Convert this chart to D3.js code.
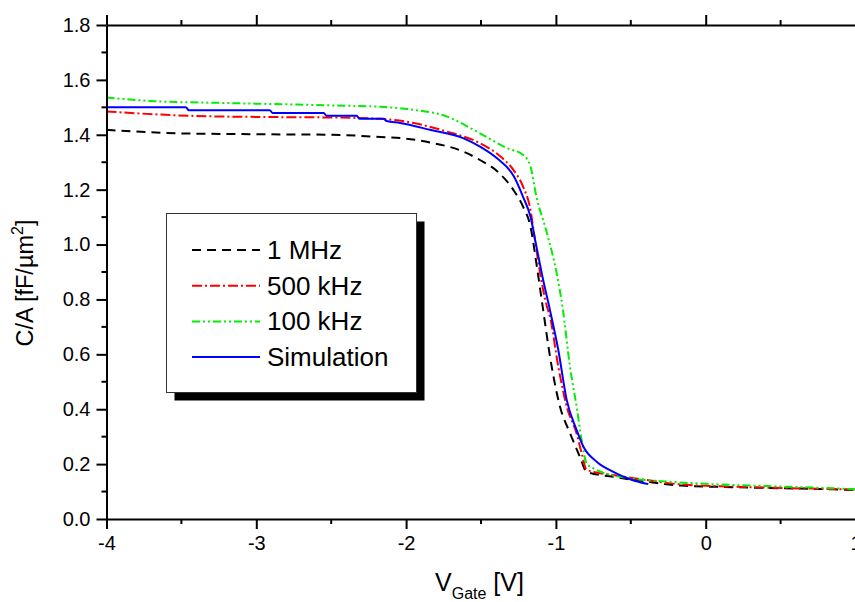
<!DOCTYPE html>
<html>
<head>
<meta charset="utf-8">
<script src="https://cdn.jsdelivr.net/npm/d3@7"></script>
<style>
  html, body { margin: 0; padding: 0; background: #fff; }
  svg { display: block; font-family: Arial, "Liberation Sans", sans-serif; }
</style>
</head>
<body>
<svg id="chart" width="855" height="602"></svg>
<script>
// ---- data ----
const seriesNames = ["1 MHz", "500 kHz", "100 kHz", "Simulation"];

const mhz1X = [-4, -3.5, -3, -2.5, -2.17, -2.0, -1.84, -1.62, -1.51, -1.39, -1.285, -1.22, -1.17, -1.127, -1.09, -1.028, -0.973, -0.906, -0.84, -0.795, -0.62, -0.394, -0.17, 0.18, 0.5, 0.85, 1.0];
const mhz1Y = [1.418, 1.405, 1.402, 1.400, 1.392, 1.386, 1.372, 1.339, 1.309, 1.266, 1.200, 1.139, 1.066, 0.920, 0.780, 0.555, 0.410, 0.313, 0.227, 0.172, 0.154, 0.136, 0.122, 0.116, 0.112, 0.108, 0.105];

const khz500X = [-4, -3.44, -3, -2.5, -2.17, -1.95, -1.73, -1.51, -1.37, -1.285, -1.22, -1.17, -1.14, -1.106, -1.06, -1.04, -0.984, -0.928, -0.862, -0.828, -0.795, -0.617, -0.394, -0.17, 0.18, 0.5, 0.85, 1.0];
const khz500Y = [1.485, 1.469, 1.465, 1.463, 1.458, 1.443, 1.412, 1.370, 1.321, 1.273, 1.212, 1.127, 1.017, 0.897, 0.774, 0.738, 0.555, 0.410, 0.312, 0.240, 0.179, 0.160, 0.142, 0.126, 0.118, 0.113, 0.109, 0.107];

const khz100X = [-4, -3.67, -3.22, -2.5, -2.17, -1.95, -1.73, -1.51, -1.33, -1.22, -1.17, -1.13, -1.06, -0.995, -0.955, -0.906, -0.862, -0.828, -0.795, -0.728, -0.505, -0.3, 0.0, 0.407, 0.8, 1.0];
const khz100Y = [1.536, 1.522, 1.516, 1.507, 1.502, 1.491, 1.467, 1.406, 1.352, 1.327, 1.285, 1.175, 1.042, 0.896, 0.770, 0.555, 0.410, 0.288, 0.203, 0.179, 0.148, 0.138, 0.128, 0.120, 0.113, 0.108];

const simX = [-4, -3.47, -3.45, -2.91, -2.89, -2.55, -2.53, -2.33, -2.31, -2.15, -2.13, -2.04, -1.84, -1.62, -1.51, -1.395, -1.28, -1.22, -1.17, -1.13, -1.085, -1.04, -0.984, -0.928, -0.862, -0.817, -0.728, -0.617, -0.505, -0.383];
const simY = [1.500, 1.500, 1.489, 1.489, 1.479, 1.479, 1.469, 1.469, 1.458, 1.458, 1.450, 1.443, 1.418, 1.388, 1.358, 1.315, 1.248, 1.175, 1.102, 0.993, 0.871, 0.762, 0.616, 0.434, 0.325, 0.264, 0.209, 0.172, 0.145, 0.127];

const xTickValues = [-4, -3, -2, -1, 0, 1];
const xTickLabels = ["-4", "-3", "-2", "-1", "0", "1"];
const yTickValues = [0.0, 0.2, 0.4, 0.6, 0.8, 1.0, 1.2, 1.4, 1.6, 1.8];
const yTickLabels = ["0.0", "0.2", "0.4", "0.6", "0.8", "1.0", "1.2", "1.4", "1.6", "1.8"];

// ---- layout ----
const svg = d3.select("#chart");
const pLeft = 106.5, pRight = 855.5, pTop = 25, pBottom = 519;
const x = d3.scaleLinear().domain([-4, 1]).range([pLeft, pRight]);
const y = d3.scaleLinear().domain([0, 1.8]).range([pBottom, pTop]);
const FONT = "Arial, 'Liberation Sans', sans-serif";

const series = [
  { name: seriesNames[0], xs: mhz1X, ys: mhz1Y, color: "#000000", dash: "9,6" },
  { name: seriesNames[1], xs: khz500X, ys: khz500Y, color: "#ff0000", dash: "10,3,2,3" },
  { name: seriesNames[2], xs: khz100X, ys: khz100Y, color: "#00ee00", dash: "8,3,2,3,2,3" },
  { name: seriesNames[3], xs: simX, ys: simY, color: "#0000ff", dash: null }
];

// clip
svg.append("defs").append("clipPath").attr("id", "clip")
  .append("rect").attr("x", pLeft).attr("y", pTop).attr("width", pRight - pLeft).attr("height", pBottom - pTop);

const line = d3.line().x(d => x(d[0])).y(d => y(d[1])).curve(d3.curveMonotoneX);

const gLines = svg.append("g").attr("clip-path", "url(#clip)");
series.forEach(s => {
  const pts = s.xs.map((v, i) => [v, s.ys[i]]);
  gLines.append("path")
    .attr("d", line(pts))
    .attr("fill", "none")
    .attr("stroke", s.color)
    .attr("stroke-width", 2)
    .attr("stroke-dasharray", s.dash);
});

// ---- axes ----
function styleAxis(g) {
  g.attr("font-family", FONT);
  g.selectAll("path.domain").attr("stroke", "#000").attr("stroke-width", 2);
  g.selectAll("line").attr("stroke", "#000").attr("stroke-width", 2);
}
const xMinor = d3.range(-3.5, 1.01, 1);
const yMinor = d3.range(0.1, 1.8, 0.2);

// bottom
const gB = svg.append("g").attr("transform", `translate(0,${pBottom})`)
  .call(d3.axisBottom(x).tickValues(xTickValues).tickSize(10).tickSizeOuter(0).tickPadding(7)
    .tickFormat((d, i) => xTickLabels[i]));
gB.selectAll("text").attr("font-size", 20).attr("fill", "#000").attr("font-family", FONT);
gB.selectAll(".minor").data(xMinor).enter().append("line").attr("class", "minor")
  .attr("x1", d => x(d)).attr("x2", d => x(d)).attr("y1", 0).attr("y2", 5);
styleAxis(gB);

// top
const gT = svg.append("g").attr("transform", `translate(0,${pTop})`)
  .call(d3.axisTop(x).tickValues(xTickValues).tickSize(10).tickSizeOuter(0).tickFormat(""));
gT.selectAll(".minor").data(xMinor).enter().append("line").attr("class", "minor")
  .attr("x1", d => x(d)).attr("x2", d => x(d)).attr("y1", 0).attr("y2", -5);
styleAxis(gT);

// left
const gL = svg.append("g").attr("transform", `translate(${pLeft},0)`)
  .call(d3.axisLeft(y).tickValues(yTickValues).tickSize(10).tickSizeOuter(0).tickPadding(6)
    .tickFormat((d, i) => yTickLabels[i]));
gL.selectAll("text").attr("font-size", 20).attr("fill", "#000").attr("font-family", FONT);
gL.selectAll(".minor").data(yMinor).enter().append("line").attr("class", "minor")
  .attr("y1", d => y(d)).attr("y2", d => y(d)).attr("x1", 0).attr("x2", -5);
styleAxis(gL);

// ---- axis titles ----
const xt = svg.append("text").attr("x", 435).attr("y", 591).attr("font-size", 25).attr("fill", "#000").attr("font-family", FONT);
xt.append("tspan").text("V");
xt.append("tspan").attr("font-size", 16).attr("dy", 8).text("Gate");
xt.append("tspan").attr("dy", -8).text(" [V]");

const yt = svg.append("text").attr("transform", "translate(33,283) rotate(-90)")
  .attr("text-anchor", "middle").attr("font-size", 23.5).attr("fill", "#000").attr("font-family", FONT);
yt.append("tspan").text("C/A [fF/µm");
yt.append("tspan").attr("font-size", 16).attr("dy", -10).text("2");
yt.append("tspan").attr("dy", 10).text("]");

// ---- legend ----
const lg = svg.append("g").attr("font-family", FONT);
const lx = 166.5, ly = 213.5, lw = 250, lh = 179, sh = 8;
lg.append("rect").attr("x", lx + sh).attr("y", ly + sh).attr("width", lw).attr("height", lh).attr("fill", "#000");
lg.append("rect").attr("x", lx).attr("y", ly).attr("width", lw).attr("height", lh)
  .attr("fill", "#fff").attr("stroke", "#333").attr("stroke-width", 1);
series.forEach((s, i) => {
  const yy = 250 + i * 35.7;
  lg.append("line").attr("x1", 192).attr("x2", 260).attr("y1", yy).attr("y2", yy)
    .attr("stroke", s.color).attr("stroke-width", 2).attr("stroke-dasharray", s.dash);
  lg.append("text").attr("x", 267).attr("y", yy + 9).attr("font-size", 26).attr("fill", "#000").text(s.name);
});
</script>
</body>
</html>
